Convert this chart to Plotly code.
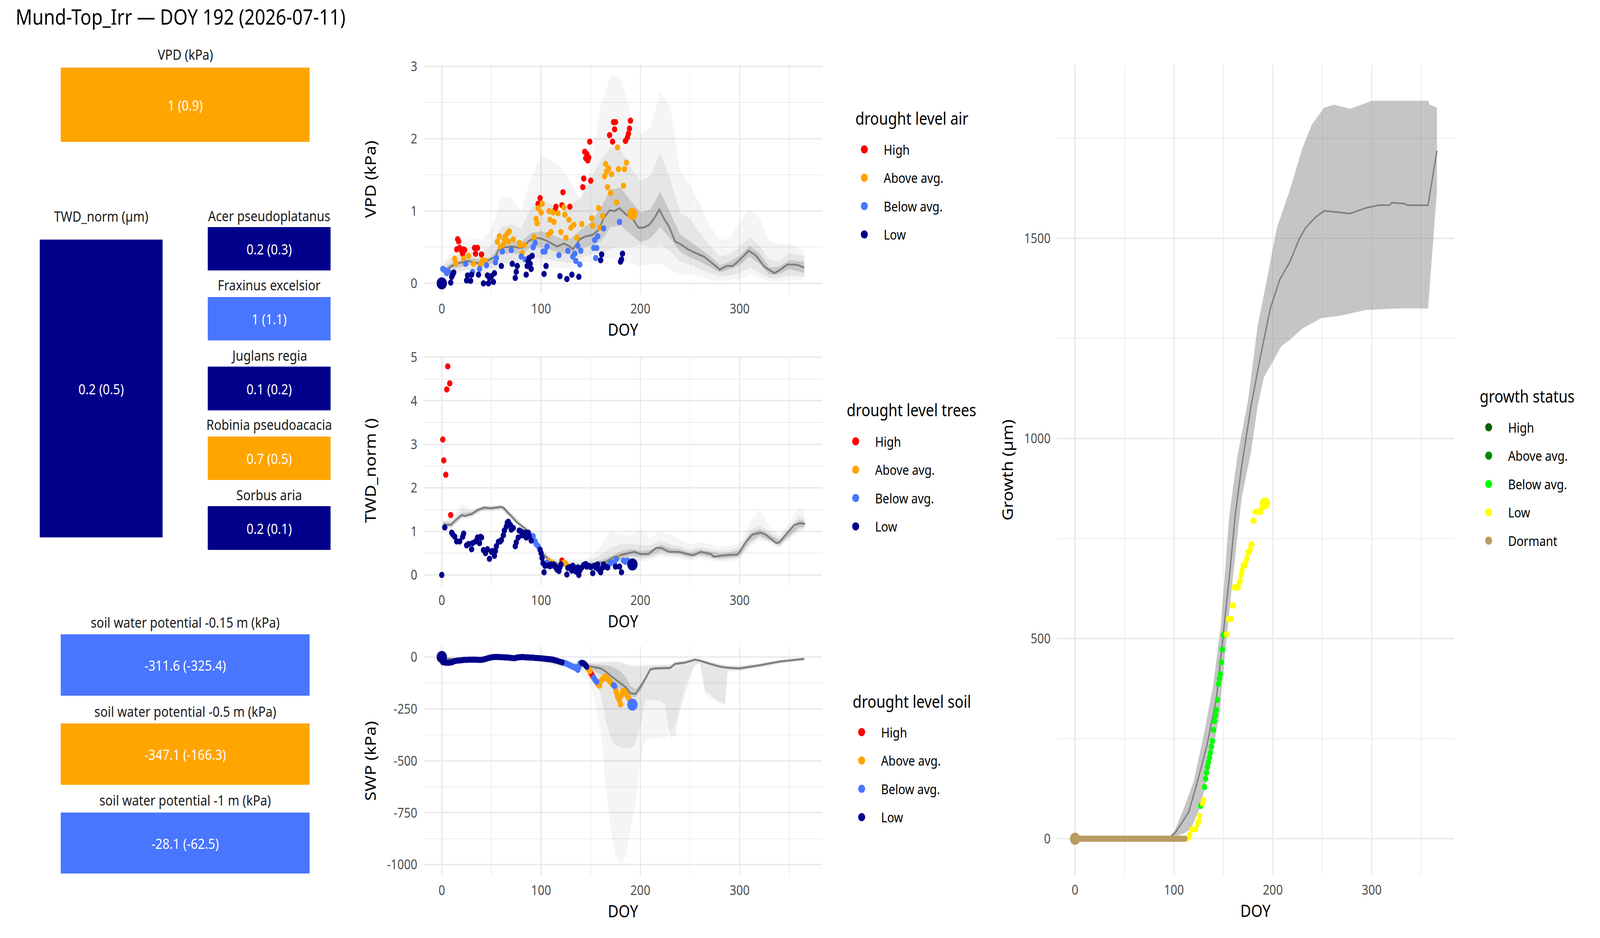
import plotly.graph_objects as go

# ------------------------------------------------------------------ data
TITLE = "Mund-Top_Irr — DOY 192 (2026-07-11)"

LEVELS = ["High", "Above avg.", "Below avg.", "Low"]
LEVEL_COLORS = ["#FF0000", "#FFA500", "#4876FF", "#00008B"]
GROWTH_LEVELS = ["High", "Above avg.", "Below avg.", "Low", "Dormant"]
GROWTH_COLORS = ["#006400", "#008B00", "#00FF00", "#FFFF00", "#B89C62"]
LEGEND_TITLES = ["drought level air", "drought level trees", "drought level soil", "growth status"]

tile_titles = ["VPD (kPa)", "TWD_norm (µm)", "Acer pseudoplatanus", "Fraxinus excelsior",
               "Juglans regia", "Robinia pseudoacacia", "Sorbus aria",
               "soil water potential -0.15 m (kPa)", "soil water potential -0.5 m (kPa)",
               "soil water potential -1 m (kPa)"]
tile_values = ["1 (0.9)", "0.2 (0.5)", "0.2 (0.3)", "1 (1.1)", "0.1 (0.2)", "0.7 (0.5)",
               "0.2 (0.1)", "-311.6 (-325.4)", "-347.1 (-166.3)", "-28.1 (-62.5)"]
tile_levels = ["Above avg.", "Low", "Low", "Below avg.", "Low", "Above avg.", "Low",
               "Below avg.", "Above avg.", "Below avg."]

x_ticks = [0, 100, 200, 300]
x_minor = [50, 150, 250, 350]
vpd_ticks = [0, 1, 2, 3]
vpd_minor = [0.5, 1.5, 2.5]
twd_ticks = [0, 1, 2, 3, 4, 5]
twd_minor = [0.5, 1.5, 2.5, 3.5, 4.5]
swp_ticks = [0, -250, -500, -750, -1000]
swp_tick_text = ["0", "-250", "-500", "-750", "-1000"]
swp_minor = [-125, -375, -625, -875]
grw_ticks = [0, 500, 1000, 1500]
grw_minor = [250, 750, 1250, 1750]

# ---- VPD: current-year daily points by drought level
vpd_high_doy = [15, 16, 17, 18, 20, 21, 22, 23, 33, 34, 36, 40, 97, 99, 114, 115, 121, 122, 129,
                142, 143, 144, 145, 146, 147, 148, 149, 150, 169, 172, 173, 174, 175, 185, 187,
                188, 189, 190]
vpd_high_val = [0.47, 0.61, 0.58, 0.49, 0.45, 0.41, 0.47, 0.46, 0.49, 0.41, 0.49, 0.40, 1.10, 1.18,
                1.01, 1.06, 1.08, 1.26, 1.06, 1.33, 1.45, 1.82, 1.73, 1.79, 1.70, 1.74, 1.96, 1.42,
                2.05, 1.96, 2.23, 2.13, 2.23, 1.97, 2.02, 2.07, 2.14, 2.25]
vpd_above_doy = [13, 14, 22, 27, 32, 39, 41, 44, 56, 58, 59, 62, 63, 64, 66, 67, 68, 72, 78, 79, 81,
                 83, 93, 95, 96, 97, 100, 101, 107, 108, 109, 110, 112, 113, 117, 120, 123, 124, 125,
                 128, 130, 133, 136, 141, 151, 152, 158, 159, 162, 164, 165, 166, 167, 168, 170, 171,
                 176, 177, 178, 183, 184, 186]
vpd_above_val = [0.34, 0.28, 0.34, 0.38, 0.27, 0.26, 0.32, 0.31, 0.575, 0.65, 0.50, 0.54, 0.61, 0.65,
                 0.69, 0.58, 0.72, 0.61, 0.56, 0.53, 0.42, 0.53, 0.64, 0.89, 0.83, 1.04, 0.98, 1.10,
                 0.67, 1.00, 0.88, 0.71, 0.98, 0.85, 0.97, 0.71, 1.05, 0.95, 0.63, 0.88, 0.77, 0.81,
                 0.63, 0.82, 0.90, 0.80, 1.04, 0.77, 0.93, 1.48, 1.65, 1.55, 1.33, 1.59, 1.25, 1.51,
                 1.12, 1.88, 1.58, 1.35, 1.58, 1.67]
vpd_below_doy = [1, 3, 5, 7, 24, 31, 38, 45, 54, 55, 61, 70, 80, 84, 92, 94, 102, 104, 106, 118, 127,
                 132, 134, 135, 137, 139, 140, 153, 154, 155, 156, 157, 163, 179]
vpd_below_val = [0.20, 0.18, 0.14, 0.16, 0.27, 0.16, 0.20, 0.25, 0.29, 0.35, 0.44, 0.46, 0.37, 0.33,
                 0.50, 0.56, 0.44, 0.44, 0.51, 0.39, 0.45, 0.37, 0.41, 0.31, 0.52, 0.26, 0.45, 0.49,
                 0.60, 0.35, 0.49, 0.65, 0.76, 0.85]
vpd_low_doy = [9, 10, 11, 12, 25, 26, 29, 30, 37, 42, 46, 47, 48, 50, 52, 53, 60, 71, 74, 75, 76, 85,
               86, 87, 88, 89, 90, 91, 103, 105, 119, 126, 131, 138, 160, 161, 180, 181, 182]
vpd_low_val = [0.01, 0.09, 0.12, 0.15, 0.04, 0.11, 0.035, 0.12, 0.12, 0.0, 0.11, 0.0, 0.075, 0.10,
               0.02, 0.14, 0.24, 0.27, 0.075, 0.16, 0.24, 0.12, 0.24, 0.31, 0.35, 0.27, 0.20, 0.38,
               0.13, 0.24, 0.10, 0.06, 0.12, 0.09, 0.32, 0.40, 0.30, 0.33, 0.41]
vpd_first = (0, 0.0, "Low")
vpd_today = (192, 0.96, "Above avg.")

# ---- VPD: climatology (median line + three quantile ribbons)
vpd_med_doy = [4, 10, 17, 26, 36, 46, 54, 58, 65, 71, 78, 83, 87, 94, 100, 107, 116, 123, 129, 132,
               139, 145, 152, 158, 163, 169, 174, 179, 185, 193, 198, 203, 209, 214, 219, 224, 229,
               235, 242, 248, 254, 264, 274, 280, 287, 293, 299, 309, 316, 325, 335, 341, 348, 357,
               365]
vpd_med_val = [0.18, 0.24, 0.28, 0.31, 0.28, 0.31, 0.37, 0.49, 0.50, 0.51, 0.49, 0.50, 0.58, 0.63,
               0.62, 0.58, 0.51, 0.55, 0.51, 0.47, 0.61, 0.65, 0.67, 0.74, 0.90, 1.01, 1.00, 1.04,
               0.96, 0.88, 0.77, 0.77, 0.81, 0.90, 1.02, 0.89, 0.78, 0.58, 0.53, 0.47, 0.43, 0.37,
               0.26, 0.19, 0.24, 0.24, 0.31, 0.45, 0.39, 0.23, 0.14, 0.19, 0.26, 0.26, 0.22]
vpd_band_doy = [1, 10, 20, 30, 40, 50, 60, 70, 80, 90, 100, 110, 120, 130, 140, 150, 160, 170, 180,
                190, 200, 210, 220, 230, 240, 250, 260, 270, 280, 290, 300, 310, 320, 330, 340, 350,
                365]
vpd_q25 = [0.14, 0.20, 0.23, 0.26, 0.24, 0.27, 0.40, 0.42, 0.40, 0.50, 0.50, 0.46, 0.42, 0.40, 0.48,
           0.52, 0.58, 0.78, 0.80, 0.68, 0.57, 0.62, 0.78, 0.62, 0.44, 0.36, 0.30, 0.23, 0.15, 0.19,
           0.25, 0.37, 0.27, 0.12, 0.13, 0.20, 0.14]
vpd_q75 = [0.20, 0.28, 0.32, 0.35, 0.33, 0.37, 0.56, 0.58, 0.58, 0.70, 0.72, 0.68, 0.62, 0.62, 0.74,
           0.84, 1.04, 1.30, 1.32, 1.15, 0.98, 1.02, 1.27, 0.98, 0.68, 0.58, 0.48, 0.38, 0.25, 0.30,
           0.38, 0.52, 0.42, 0.22, 0.23, 0.32, 0.30]
vpd_q10 = [0.12, 0.15, 0.17, 0.20, 0.17, 0.20, 0.28, 0.28, 0.28, 0.35, 0.35, 0.32, 0.30, 0.28, 0.36,
           0.40, 0.42, 0.48, 0.50, 0.50, 0.53, 0.50, 0.53, 0.45, 0.30, 0.26, 0.20, 0.14, 0.09, 0.11,
           0.14, 0.22, 0.15, 0.07, 0.08, 0.11, 0.09]
vpd_q90 = [0.24, 0.36, 0.42, 0.44, 0.43, 0.52, 0.78, 0.82, 0.76, 1.05, 1.17, 1.10, 0.96, 1.08, 1.20,
           1.45, 1.70, 1.88, 1.85, 1.62, 1.42, 1.48, 1.81, 1.45, 0.98, 0.89, 0.70, 0.52, 0.37, 0.40,
           0.50, 0.64, 0.52, 0.33, 0.31, 0.42, 0.38]
vpd_min = [0.10, 0.12, 0.14, 0.15, 0.12, 0.15, 0.20, 0.22, 0.22, 0.25, 0.25, 0.22, 0.22, 0.20, 0.28,
           0.30, 0.32, 0.35, 0.30, 0.28, 0.24, 0.26, 0.27, 0.18, 0.13, 0.12, 0.10, 0.05, 0.03, 0.05,
           0.06, 0.12, 0.08, 0.03, 0.02, 0.05, 0.05]
vpd_max = [0.28, 0.42, 0.58, 0.62, 0.60, 0.75, 1.20, 1.18, 1.00, 1.45, 1.78, 1.70, 1.60, 1.40, 1.15,
           1.60, 2.45, 2.87, 2.85, 2.35, 2.08, 2.15, 2.65, 2.45, 1.55, 1.35, 1.10, 0.80, 0.60, 0.62,
           0.85, 1.02, 0.90, 0.58, 0.55, 0.55, 0.45]

# ---- TWD_norm: current-year daily points by drought level
twd_high_doy = [1, 2, 4, 5, 6, 8, 9, 121]
twd_high_val = [3.11, 2.63, 2.30, 4.26, 4.79, 4.40, 1.375, 0.33]
twd_above_doy = [108, 111, 123, 125, 177]
twd_above_val = [0.32, 0.28, 0.28, 0.26, 0.39]
twd_below_doy = [92, 94, 95, 97, 106, 169, 171, 174, 176, 183, 185, 187]
twd_below_val = [0.89, 0.77, 0.71, 0.66, 0.28, 0.26, 0.28, 0.30, 0.37, 0.33, 0.30, 0.33]
twd_low_doy = [0, 3, 10, 11, 13, 15, 18, 21, 22, 25, 27, 30, 31, 34, 36, 38, 39, 40, 42, 44, 46, 48,
               50, 51, 53, 54, 55, 57, 59, 60, 62, 63, 65, 66, 67, 69, 70, 72, 74, 75, 77, 78, 80, 81,
               84, 85, 87, 88, 90, 99, 100, 101, 102, 103, 104, 107, 109, 110, 112, 113, 114, 115,
               116, 117, 118, 119, 120, 126, 127, 129, 131, 132, 134, 135, 137, 138, 139, 141, 143,
               145, 146, 148, 150, 152, 154, 155, 157, 158, 160, 162, 163, 165, 167, 175, 179, 181]
twd_low_val = [0.0, 1.09, 0.97, 0.93, 0.88, 0.77, 0.77, 0.875, 0.95, 0.68, 0.71, 0.59, 0.73, 0.77,
               0.86, 0.73, 0.875, 0.86, 0.57, 0.50, 0.59, 0.37, 0.53, 0.55, 0.44, 0.55, 0.66, 0.76,
               0.77, 0.80, 0.91, 1.02, 1.11, 1.20, 1.22, 1.15, 1.04, 1.08, 0.66, 0.75, 0.86, 1.02,
               0.995, 0.91, 0.97, 0.86, 0.97, 0.89, 0.79, 0.58, 0.50, 0.39, 0.27, 0.06, 0.21, 0.22,
               0.20, 0.24, 0.22, 0.24, 0.20, 0.17, 0.125, 0.14, 0.09, 0.18, 0.24, 0.01, 0.16, 0.18,
               0.10, 0.21, 0.15, 0.08, 0.17, 0.00, 0.10, 0.17, 0.23, 0.25, 0.19, 0.21, 0.18, 0.04,
               0.21, 0.17, 0.24, 0.125, 0.06, 0.17, 0.24, 0.19, 0.17, 0.19, 0.19, 0.06]
twd_today = (192, 0.24, "Low")

twd_med_doy = [2, 4, 9, 14, 20, 23, 30, 36, 43, 49, 59, 62, 68, 75, 83, 91, 97, 102, 109, 117, 129,
               142, 152, 165, 174, 184, 194, 200, 208, 216, 221, 229, 239, 245, 253, 261, 271, 274,
               281, 290, 297, 300, 306, 313, 321, 326, 332, 337, 340, 348, 355, 361, 366]
twd_med_val = [1.17, 1.15, 1.15, 1.26, 1.375, 1.35, 1.40, 1.49, 1.55, 1.53, 1.56, 1.55, 1.40, 1.22,
               1.08, 0.93, 0.705, 0.48, 0.33, 0.24, 0.21, 0.19, 0.26, 0.30, 0.415, 0.48, 0.53, 0.48,
               0.48, 0.62, 0.62, 0.53, 0.53, 0.50, 0.45, 0.53, 0.48, 0.415, 0.44, 0.46, 0.46, 0.53,
               0.75, 0.93, 0.97, 0.93, 0.82, 0.73, 0.75, 0.97, 1.15, 1.19, 1.17]
twd_band_doy = [1, 10, 20, 30, 40, 50, 60, 70, 80, 90, 100, 110, 120, 130, 140, 150, 160, 170, 180,
                190, 200, 210, 220, 230, 240, 250, 260, 270, 280, 290, 300, 310, 320, 330, 340, 350,
                360, 365]
twd_q25 = [1.13, 1.12, 1.33, 1.36, 1.49, 1.50, 1.53, 1.32, 1.10, 0.91, 0.48, 0.26, 0.20, 0.17, 0.15,
           0.17, 0.22, 0.29, 0.37, 0.44, 0.42, 0.44, 0.55, 0.50, 0.47, 0.41, 0.46, 0.42, 0.38, 0.40,
           0.44, 0.76, 0.90, 0.80, 0.68, 0.90, 1.09, 1.10]
twd_q75 = [1.21, 1.20, 1.42, 1.44, 1.55, 1.56, 1.59, 1.39, 1.16, 0.99, 0.56, 0.34, 0.28, 0.25, 0.23,
           0.27, 0.34, 0.43, 0.54, 0.60, 0.55, 0.57, 0.69, 0.62, 0.59, 0.51, 0.58, 0.54, 0.50, 0.52,
           0.57, 0.94, 1.05, 0.93, 0.80, 1.05, 1.26, 1.25]
twd_q10 = [1.10, 1.09, 1.30, 1.33, 1.47, 1.48, 1.51, 1.30, 1.08, 0.89, 0.45, 0.24, 0.18, 0.15, 0.13,
           0.14, 0.18, 0.22, 0.28, 0.36, 0.36, 0.39, 0.48, 0.45, 0.43, 0.37, 0.42, 0.38, 0.34, 0.36,
           0.40, 0.70, 0.85, 0.76, 0.65, 0.86, 1.04, 1.06]
twd_q90 = [1.24, 1.24, 1.50, 1.47, 1.57, 1.58, 1.61, 1.42, 1.19, 1.02, 0.60, 0.38, 0.32, 0.30, 0.28,
           0.34, 0.46, 0.62, 0.70, 0.72, 0.68, 0.68, 0.78, 0.70, 0.66, 0.58, 0.64, 0.60, 0.56, 0.58,
           0.64, 1.02, 1.15, 1.00, 0.86, 1.12, 1.35, 1.32]
twd_min = [1.08, 1.07, 1.28, 1.31, 1.45, 1.46, 1.49, 1.28, 1.06, 0.87, 0.43, 0.22, 0.16, 0.13, 0.11,
           0.11, 0.14, 0.17, 0.20, 0.28, 0.30, 0.34, 0.42, 0.40, 0.38, 0.32, 0.37, 0.33, 0.29, 0.31,
           0.36, 0.64, 0.80, 0.72, 0.62, 0.82, 1.00, 1.02]
twd_max = [1.26, 1.28, 1.65, 1.50, 1.59, 1.60, 1.63, 1.44, 1.21, 1.04, 0.63, 0.42, 0.38, 0.36, 0.35,
           0.42, 0.65, 1.00, 0.95, 0.90, 1.06, 0.85, 0.98, 0.92, 0.80, 0.70, 0.76, 0.70, 0.66, 0.66,
           0.72, 1.20, 1.50, 1.10, 0.92, 1.20, 1.55, 1.45]

# ---- SWP: current-year daily points by drought level
swp_high_doy = [150, 151, 152]
swp_high_val = [-77, -85, -93]
swp_above_doy = [147, 148, 149, 157, 158, 159, 160, 161, 162, 163, 164, 165, 166, 167, 168, 169, 170,
                 171, 172, 175, 176, 177, 178, 179, 180, 181, 182, 183, 184, 185, 186, 187, 188, 189,
                 190, 191]
swp_above_val = [-52, -60, -68, -130, -136, -138, -118, -110, -106, -103, -98, -94, -100, -106, -110,
                 -115, -122, -128, -133, -155, -172, -190, -200, -210, -228, -185, -168, -163, -165,
                 -172, -180, -188, -196, -205, -212, -218]
swp_below_doy = [122, 123, 124, 125, 126, 127, 128, 129, 130, 131, 132, 133, 134, 135, 136, 137, 138,
                 139, 140, 153, 154, 155, 156, 173, 174]
swp_below_val = [-27, -28, -29, -31, -33, -35, -38, -40, -42, -45, -47, -49, -51, -54, -57, -62, -48,
                 -32, -30, -100, -108, -115, -120, -136, -140]
swp_low_doy = [1, 3, 5, 7, 9, 11, 13, 15, 17, 19, 21, 23, 25, 27, 29, 31, 33, 35, 37, 39, 41, 43, 45,
               47, 49, 51, 53, 55, 57, 59, 61, 63, 65, 67, 69, 71, 73, 75, 77, 79, 81, 83, 85, 87, 89,
               91, 93, 95, 97, 99, 101, 103, 105, 107, 109, 111, 113, 115, 117, 119, 121, 141, 142,
               143, 144, 145, 146]
swp_low_val = [-25, -27, -28, -28, -27, -24, -20, -18, -17, -16, -15, -14, -14, -13, -13, -13, -13,
               -13, -14, -14, -13, -11, -8, -5, -3, -1, 0, 0, 0, -1, -1, -2, -2, -3, -4, -5, -6, -4,
               -2, -1, 0, -1, -2, -2, -3, -3, -4, -5, -5, -6, -7, -8, -9, -10, -11, -12, -14, -17,
               -20, -23, -26, -28, -29, -31, -36, -40, -47]
swp_first = (0, 0, "Low")
swp_today = (192, -230, "Below avg.")

swp_band_doy = [1, 20, 40, 60, 80, 100, 120, 140, 150, 160, 165, 170, 175, 180, 185, 190, 195, 200,
                205, 210, 215, 220, 225, 230, 235, 240, 245, 250, 255, 260, 265, 270, 275, 280, 285,
                288, 300, 320, 340, 365]
swp_med = [-8, -12, -10, -3, -3, -13, -32, -42, -46, -55, -70, -90, -108, -125, -145, -175, -178,
           -145, -105, -60, -55, -54, -54, -53, -33, -31, -27, -20, -13, -18, -26, -34, -40, -46,
           -51, -52, -55, -40, -22, -9]
swp_q25 = [-14, -16, -14, -6, -6, -17, -38, -48, -60, -85, -100, -120, -140, -158, -175, -192, -195,
           -165, -115, -67, -62, -61, -61, -60, -39, -37, -33, -26, -18, -23, -31, -39, -46, -52,
           -57, -58, -61, -45, -26, -13]
swp_q75 = [-3, -8, -6, 0, 0, -10, -27, -36, -36, -38, -40, -45, -55, -70, -95, -140, -155, -130, -95,
           -53, -48, -47, -47, -46, -28, -26, -22, -15, -9, -13, -21, -29, -35, -40, -45, -46, -49,
           -35, -18, -6]
swp_q10 = [-18, -20, -18, -9, -9, -22, -45, -60, -85, -180, -300, -390, -425, -435, -440, -440, -420,
           -330, -210, -205, -208, -210, -230, -385, -380, -255, -180, -100, -40, -28, -160, -180,
           -200, -215, -230, -65, -66, -50, -30, -16]
swp_q90 = [-1, -6, -4, 0, 0, -8, -24, -32, -30, -28, -27, -26, -25, -28, -35, -42, -45, -45, -42, -40,
           -40, -40, -40, -38, -25, -22, -18, -12, -6, -10, -18, -25, -30, -36, -40, -42, -45, -32,
           -15, -4]
swp_min = [-22, -24, -22, -12, -12, -26, -52, -75, -130, -350, -620, -830, -960, -1000, -960, -840,
           -700, -500, -400, -392, -390, -390, -390, -360, -328, -230, -136, -80, -40, -32, -175,
           -195, -210, -222, -232, -70, -70, -55, -34, -20]
swp_max = [0, -3, -2, 2, 2, -5, -20, -28, -25, -22, -20, -18, -18, -22, -30, -38, -40, -40, -38, -35,
           -35, -35, -35, -32, -20, -17, -13, -8, -3, -6, -14, -20, -25, -30, -35, -37, -40, -28,
           -12, -2]

# ---- Growth: current-year points by growth status
grw_dormant_doy = [1, 3, 5, 7, 9, 11, 13, 15, 17, 19, 21, 23, 25, 27, 29, 31, 33, 35, 37, 39, 41, 43,
                   45, 47, 49, 51, 53, 55, 57, 59, 61, 63, 65, 67, 69, 71, 73, 75, 77, 79, 81, 83, 85,
                   87, 89, 91, 93, 95, 97, 99, 101, 103, 105, 107, 109, 111]
grw_dormant_val = [0, 0, 0, 0, 0, 0, 0, 0, 0, 0, 0, 0, 0, 0, 0, 0, 0, 0, 0, 0, 0, 0, 0, 0, 0, 0, 0, 0,
                   0, 0, 0, 0, 0, 0, 0, 0, 0, 0, 0, 0, 0, 0, 0, 0, 0, 0, 0, 0, 0, 0, 0, 0, 0, 0, 0, 0]
grw_below_doy = [127, 131, 132, 133, 134, 135, 136, 137, 138, 139, 140, 141, 142, 143, 144, 145, 146,
                 147, 148, 149, 150, 151, 152]
grw_below_val = [82, 129, 150, 165, 179, 191, 203, 215, 230, 244, 272, 294, 308, 322, 347, 387, 400,
                 411, 441, 473, 509, 510, 511]
grw_low_doy = [112, 113, 115, 116, 118, 120, 122, 124, 125, 126, 129, 130, 153, 154, 155, 156, 157,
               158, 159, 160, 161, 162, 163, 164, 165, 166, 167, 168, 169, 170, 171, 172, 173, 174,
               175, 176, 177, 178, 179, 180, 181, 182, 183, 184, 185, 186, 187, 188, 189, 190, 191]
grw_low_val = [0, 0, 4, 10, 24, 24, 24, 36, 43, 57, 88, 96, 511, 511, 549, 549, 549, 549, 583, 583,
               628, 628, 628, 628, 628, 640, 645, 659, 670, 683, 683, 683, 695, 702, 716, 716, 722,
               735, 735, 795, 795, 817, 817, 817, 817, 817, 817, 817, 825, 831, 835]
grw_first = (0, 0, "Dormant")
grw_today = (192, 838, "Low")

grw_med_doy = [0, 94, 101, 107, 115, 123, 133, 143, 151, 156, 162, 168.5, 178, 188, 197.5, 207, 217,
               226.5, 233, 242.7, 252, 262, 278, 294, 307, 318, 320, 333, 336, 357, 366]
grw_med_val = [0, 0, 14, 36, 67, 136, 229, 351, 537, 652, 809, 931, 1082, 1211, 1325, 1397, 1440,
               1497, 1526, 1552, 1569, 1566, 1562, 1576, 1583, 1583, 1589, 1587, 1583, 1583, 1719]
grw_hi_doy = [0, 94, 101, 110.5, 120, 130, 139.5, 147.6, 156, 164, 175, 184.7, 194, 204, 217, 230,
              239.4, 252, 262, 278, 294, 300, 357, 358.7, 366]
grw_hi_val = [0, 0, 21, 79, 143, 258, 380, 537, 809, 953, 1096, 1282, 1397, 1526, 1619, 1726, 1784,
              1827, 1834, 1824, 1838, 1844, 1844, 1834, 1827]
grw_lo_doy = [0, 94, 101, 110.5, 117, 126.6, 136, 146, 152.4, 159, 168.5, 178, 184.7, 191, 200.8,
              209, 217, 230, 249, 268, 294, 326, 357, 366]
grw_lo_val = [0, 0, 5, 14, 24, 79, 179, 308, 480, 637, 852, 967, 1082, 1153, 1196, 1232, 1246, 1275,
              1301, 1307, 1321, 1325, 1325, 1619]

# ------------------------------------------------------------------ layout geometry (px)
W, H = 4800, 2400
FONT = "Noto Sans"
BASE = 44
TICK = 35
TILE = 37
DOT, BIG = 16, 31


def fx(px):
    return px / W


def fy(py):
    return 1 - py / H


# tile rectangles: x0, x1, y0(top), y1(bottom); title centre y
tile_rects = [(182, 929, 173, 363), (119, 488, 613, 1375), (623, 992, 581, 692), (623, 992, 760, 871),
              (623, 992, 938, 1050), (623, 992, 1117, 1228), (623, 992, 1295, 1407),
              (182, 929, 1623, 1780), (182, 929, 1851, 2008), (182, 929, 2079, 2235)]
tile_title_y = [139, 552, 551, 729, 908, 1085, 1265, 1591, 1819, 2046]

X_RANGE = [-18.25, 383.25]
mid_x = (1271, 2467)
chart_y = {"vpd": (165, 752), "twd": (910, 1498), "swp": (1654, 2240)}
grw_x = (3171, 4362)
grw_y = (166, 2239)
# legend placement: (title left x, title centre y, legend box x, first item centre y)
legend_pos = [(2564, 302, 2553, 382), (2538, 1048, 2527, 1129), (2556, 1794, 2545, 1873),
              (4437, 1013, 4426, 1093)]

fig = go.Figure()
level_color = dict(zip(LEVELS, LEVEL_COLORS))
growth_color = dict(zip(GROWTH_LEVELS, GROWTH_COLORS))

BAND_OUT = "rgba(128,128,128,0.079)"
BAND_MID = "rgba(128,128,128,0.128)"
BAND_IN = "rgba(128,128,128,0.294)"
LINE_COL = "#7F7F7F"
PAD = "\u00a0\u00a0"   # extra gap between legend key and label


def ribbon(ax, doy, lo, hi, color):
    xa, ya = ax
    fig.add_trace(go.Scatter(x=doy, y=lo, mode="lines", line=dict(width=0), xaxis=xa, yaxis=ya,
                             showlegend=False, hoverinfo="skip"))
    fig.add_trace(go.Scatter(x=doy, y=hi, mode="lines", line=dict(width=0), fill="tonexty",
                             fillcolor=color, xaxis=xa, yaxis=ya, showlegend=False, hoverinfo="skip"))


def line(ax, doy, val, width=5):
    xa, ya = ax
    fig.add_trace(go.Scatter(x=doy, y=val, mode="lines", line=dict(color=LINE_COL, width=width),
                             xaxis=xa, yaxis=ya, showlegend=False, hoverinfo="skip"))


def points(ax, doy, val, name, color, legend, size=DOT):
    xa, ya = ax
    if doy:
        fig.add_trace(go.Scatter(x=doy, y=val, mode="markers", name=name,
                                 marker=dict(color=color, size=size, line=dict(width=0)),
                                 xaxis=xa, yaxis=ya, showlegend=False))


def legend_key(ax, name, color, legend):
    # legend-only entry (larger key than the plotted points)
    xa, ya = ax
    fig.add_trace(go.Scatter(x=[None], y=[None], mode="markers", name=PAD + name,
                             marker=dict(color=color, size=16, line=dict(width=5, color=color)),
                             xaxis=xa, yaxis=ya, legend=legend, legendgroup=legend + name,
                             showlegend=True))


# ---- tiles (bars on hidden axes)
for i, (t, v, lv) in enumerate(zip(tile_titles, tile_values, tile_levels)):
    n = 5 + i
    fig.add_trace(go.Bar(x=[0], y=[1], width=[1], text=[v], textposition="inside",
                         insidetextanchor="middle", textangle=0,
                         textfont=dict(color="white", size=TILE, family=FONT),
                         marker=dict(color=level_color[lv], line=dict(width=0)),
                         xaxis=f"x{n}", yaxis=f"y{n}", showlegend=False, hoverinfo="skip"))

# ---- VPD
AX1 = ("x", "y")
ribbon(AX1, vpd_band_doy, vpd_min, vpd_max, BAND_OUT)
ribbon(AX1, vpd_band_doy, vpd_q10, vpd_q90, BAND_MID)
ribbon(AX1, vpd_band_doy, vpd_q25, vpd_q75, BAND_IN)
line(AX1, vpd_med_doy, vpd_med_val)
for name, d, v in zip(LEVELS, [vpd_high_doy, vpd_above_doy, vpd_below_doy, vpd_low_doy],
                      [vpd_high_val, vpd_above_val, vpd_below_val, vpd_low_val]):
    points(AX1, d, v, name, level_color[name], "legend")
    legend_key(AX1, name, level_color[name], "legend")
for d, v, lv in (vpd_first, vpd_today):
    points(AX1, [d], [v], lv, level_color[lv], "legend", size=BIG)

# ---- TWD
AX2 = ("x2", "y2")
ribbon(AX2, twd_band_doy, twd_min, twd_max, BAND_OUT)
ribbon(AX2, twd_band_doy, twd_q10, twd_q90, BAND_MID)
ribbon(AX2, twd_band_doy, twd_q25, twd_q75, BAND_IN)
line(AX2, twd_med_doy, twd_med_val)
for name, d, v in zip(LEVELS, [twd_high_doy, twd_above_doy, twd_below_doy, twd_low_doy],
                      [twd_high_val, twd_above_val, twd_below_val, twd_low_val]):
    points(AX2, d, v, name, level_color[name], "legend2")
    legend_key(AX2, name, level_color[name], "legend2")
d, v, lv = twd_today
points(AX2, [d], [v], lv, level_color[lv], "legend2", size=BIG)

# ---- SWP
AX3 = ("x3", "y3")
ribbon(AX3, swp_band_doy, swp_min, swp_max, BAND_OUT)
ribbon(AX3, swp_band_doy, swp_q10, swp_q90, BAND_MID)
ribbon(AX3, swp_band_doy, swp_q25, swp_q75, BAND_IN)
line(AX3, swp_band_doy, swp_med)
for name, d, v in zip(LEVELS, [swp_high_doy, swp_above_doy, swp_below_doy, swp_low_doy],
                      [swp_high_val, swp_above_val, swp_below_val, swp_low_val]):
    points(AX3, d, v, name, level_color[name], "legend3")
    legend_key(AX3, name, level_color[name], "legend3")
for d, v, lv in (swp_first, swp_today):
    points(AX3, [d], [v], lv, level_color[lv], "legend3", size=BIG)

# ---- Growth
AX4 = ("x4", "y4")
fig.add_trace(go.Scatter(x=grw_lo_doy, y=grw_lo_val, mode="lines", line=dict(width=0),
                         xaxis="x4", yaxis="y4", showlegend=False, hoverinfo="skip"))
fig.add_trace(go.Scatter(x=grw_hi_doy, y=grw_hi_val, mode="lines", line=dict(width=0),
                         fill="tonexty", fillcolor="rgba(128,128,128,0.46)",
                         xaxis="x4", yaxis="y4", showlegend=False, hoverinfo="skip"))
line(AX4, grw_med_doy, grw_med_val, width=4)
grw_sets = {"High": ([], []), "Above avg.": ([], []), "Below avg.": (grw_below_doy, grw_below_val),
            "Low": (grw_low_doy, grw_low_val), "Dormant": (grw_dormant_doy, grw_dormant_val)}
for name in GROWTH_LEVELS:
    d, v = grw_sets[name]
    points(AX4, list(d), list(v), name, growth_color[name], "legend4")
    legend_key(AX4, name, growth_color[name], "legend4")
for d, v, lv in (grw_first, grw_today):
    points(AX4, [d], [v], lv, growth_color[lv], "legend4", size=BIG)

# ------------------------------------------------------------------ axes
GRID = "#EBEBEB"


def xaxis(dom):
    return dict(domain=[fx(dom[0]), fx(dom[1])], range=X_RANGE, tickmode="array", tickvals=x_ticks,
                ticktext=[str(t) for t in x_ticks], showgrid=True, gridcolor=GRID, gridwidth=4,
                zeroline=False, showline=False, ticks="", ticklabelstandoff=14,
                tickfont=dict(size=TICK, color="#4D4D4D", family=FONT),
                title=dict(text="DOY", font=dict(size=BASE, color="black", family=FONT),
                           standoff=2),
                minor=dict(tickmode="array", tickvals=x_minor, showgrid=True, gridcolor=GRID,
                           gridwidth=2, ticks=""),
                fixedrange=True)


def yaxis(dom, rng, ticks, ticktext, minor, title, standoff):
    return dict(domain=[fy(dom[1]), fy(dom[0])], range=rng, tickmode="array", tickvals=ticks,
                ticktext=ticktext, showgrid=True, gridcolor=GRID, gridwidth=4, zeroline=False,
                showline=False, ticks="", ticklabelstandoff=18,
                tickfont=dict(size=TICK, color="#4D4D4D", family=FONT),
                title=dict(text=title, font=dict(size=BASE, color="black", family=FONT),
                           standoff=standoff),
                minor=dict(tickmode="array", tickvals=minor, showgrid=True, gridcolor=GRID,
                           gridwidth=2, ticks=""),
                fixedrange=True)


layout = dict(
    width=W, height=H, margin=dict(l=0, r=0, t=0, b=0, autoexpand=False),
    paper_bgcolor="white", plot_bgcolor="white", hovermode=False,
    font=dict(family=FONT, color="black"),
    barmode="overlay",
    title=dict(text=TITLE, x=fx(47), xanchor="left", y=fy(44), yanchor="middle",
               font=dict(size=55, color="black", family=FONT)),
    xaxis=xaxis(mid_x),
    yaxis=yaxis(chart_y["vpd"], [-0.146, 3.027], vpd_ticks, [str(t) for t in vpd_ticks],
                vpd_minor, "VPD (kPa)", 90),
    xaxis2=xaxis(mid_x),
    yaxis2=yaxis(chart_y["twd"], [-0.242, 5.036], twd_ticks, [str(t) for t in twd_ticks],
                 twd_minor, "TWD_norm ()", 90),
    xaxis3=xaxis(mid_x),
    yaxis3=yaxis(chart_y["swp"], [-1052.7, 50.8], swp_ticks, swp_tick_text, swp_minor,
                 "SWP (kPa)", 18),
    xaxis4=xaxis(grw_x),
    yaxis4=yaxis(grw_y, [-90.8, 1933.6], grw_ticks, [str(t) for t in grw_ticks], grw_minor,
                 "Growth (µm)", 18),
)
for n in (2, 3, 4):
    layout[f"xaxis{n}"]["anchor"] = f"y{n}"
    layout[f"yaxis{n}"]["anchor"] = f"x{n}"

for i, (x0, x1, y0, y1) in enumerate(tile_rects):
    n = 5 + i
    layout[f"xaxis{n}"] = dict(domain=[fx(x0), fx(x1)], range=[-0.5, 0.5], visible=False,
                               anchor=f"y{n}", fixedrange=True)
    layout[f"yaxis{n}"] = dict(domain=[fy(y1), fy(y0)], range=[0, 1], visible=False,
                               anchor=f"x{n}", fixedrange=True)

annotations = []
legend_keys = ["legend", "legend2", "legend3", "legend4"]
for key, ttl, (tx, ty, lx, ly) in zip(legend_keys, LEGEND_TITLES, legend_pos):
    layout[key] = dict(x=fx(lx), y=fy(ly - 29), xanchor="left", yanchor="top",
                       font=dict(size=TICK, color="black", family=FONT), bgcolor="rgba(0,0,0,0)",
                       tracegroupgap=24, itemwidth=70, traceorder="grouped", itemclick=False,
                       itemdoubleclick=False)
    annotations.append(dict(text=ttl, x=fx(tx), y=fy(ty), xref="paper", yref="paper",
                            xanchor="left", yanchor="middle", showarrow=False,
                            font=dict(size=BASE, color="black", family=FONT)))

for i, t in enumerate(tile_titles):
    x0, x1, y0, y1 = tile_rects[i]
    annotations.append(dict(text=t, x=fx((x0 + x1) / 2), y=fy(tile_title_y[i]), xref="paper",
                            yref="paper", xanchor="center", yanchor="middle", showarrow=False,
                            font=dict(size=TILE, color="#1A1A1A", family=FONT)))
layout["annotations"] = annotations

fig.update_layout(**layout)

# fit the 4800x2400 design onto whatever viewport the browser really has
FIT_JS = """
(function(){
  var gd = document.getElementById('{plot_id}');
  var wrap = gd.parentElement;
  document.documentElement.style.overflow = 'hidden';
  document.body.style.margin = '0';
  document.body.style.overflow = 'hidden';
  function fit(){
    var sx = window.innerWidth / %d, sy = window.innerHeight / %d;
    gd.style.transformOrigin = '0 0';
    gd.style.transform = 'scale(' + sx + ',' + sy + ')';
    wrap.style.width = window.innerWidth + 'px';
    wrap.style.height = window.innerHeight + 'px';
    wrap.style.overflow = 'hidden';
  }
  fit();
  window.addEventListener('resize', fit);
})();
""" % (W, H)

fig.write_html("out.html", post_script=FIT_JS, config={"displayModeBar": False})
